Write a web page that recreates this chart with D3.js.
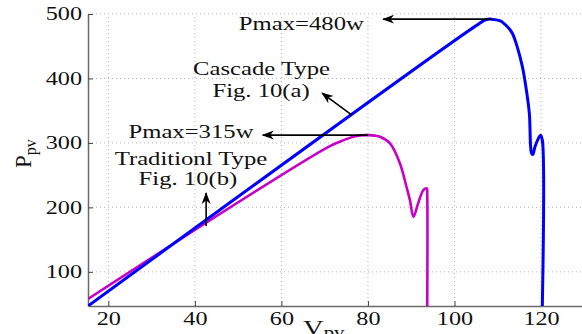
<!DOCTYPE html>
<html>
<head>
<meta charset="utf-8">
<script src="https://cdn.jsdelivr.net/npm/d3@7"></script>
<style>
  html, body { margin: 0; padding: 0; background: #fff; }
  svg { display: block; }
  text { font-family: "Liberation Serif", "Times New Roman", serif; fill: #111; }
</style>
</head>
<body>
<div id="chart"></div>
<script>
// 轴刻度
const xTicks = [20, 40, 60, 80, 100, 120];
const yTicks = [100, 200, 300, 400, 500];

// Cascade Type (蓝色) 曲线
const cascadeV = [15.3, 106.6, 107.4, 108.5, 110.6, 111.4, 112.6, 113.4, 114.5, 115.7, 116.5, 117.3, 117.8, 118.1, 118.6, 119.4, 119.9, 120.3, 120.3];
const cascadeP = [47, 489, 491.5, 492, 489.3, 485.3, 477.5, 469.8, 449, 418, 387, 346, 284, 282, 294, 307, 312, 304, 47];

// Traditionl Type (品红) 曲线
const tradV = [15.3, 71.2, 74.7, 76.6, 78.2, 80.1, 81.6, 82.8, 85.1, 87.4, 88.9, 89.7, 90.5, 91.6, 92.8, 93.6, 93.7, 93.7];
const tradP = [57.9, 295.1, 305.1, 309.5, 311.7, 312.1, 311.3, 309.5, 299.2, 268.2, 232, 211.3, 185.4, 206.2, 226.8, 229.5, 219, 47];

// 注释文字 (数据坐标)
const noteText = ['Pmax=480w', 'Cascade Type', 'Fig. 10(a)', 'Pmax=315w', 'Traditionl Type', 'Fig. 10(b)'];
const noteV = [64.6, 55.4, 55.3, 39.1, 39.1, 38.4];
const noteP = [474.9, 405.1, 371.5, 307.5, 266.1, 234.6];

// 箭头 [起点V, 起点P, 终点V, 终点P]
const arrows = [
  [108.5, 492, 83.5, 492],
  [76.3, 343.1, 69.4, 377.2],
  [80.0, 312.1, 55.7, 312.1],
  [42.6, 171, 42.6, 222.2]
];

const width = 582, height = 334;
const stretch = 1.3;   // 原图文字横向拉伸

const svg = d3.select('#chart').append('svg')
  .attr('width', width)
  .attr('height', height);

const defs = svg.append('defs');
defs.append('clipPath').attr('id', 'plot-clip')
  .append('rect').attr('x', 88).attr('y', 0).attr('width', width - 88).attr('height', 306);

// 箭头头部 (尖端在 x=12)
defs.append('marker')
  .attr('id', 'arrowhead')
  .attr('viewBox', '0 0 12 10')
  .attr('refX', 11)
  .attr('refY', 5)
  .attr('markerWidth', 12)
  .attr('markerHeight', 10)
  .attr('markerUnits', 'userSpaceOnUse')
  .attr('orient', 'auto')
  .append('path')
  .attr('d', 'M12,5 L0,0.5 L3.5,5 L0,9.5 Z')
  .attr('fill', '#000');

const x = d3.scaleLinear().domain([15.3, 130]).range([88, 584.3]);
const y = d3.scaleLinear().domain([47, 500]).range([306, 14]);

// 网格线
const grid = svg.append('g').attr('class', 'grid')
  .attr('stroke', '#b5b5b5')
  .attr('stroke-width', 1)
  .attr('stroke-dasharray', '1,3');
grid.selectAll('.gx').data(xTicks).enter().append('line')
  .attr('x1', d => x(d)).attr('x2', d => x(d))
  .attr('y1', y(47)).attr('y2', y(500));
grid.selectAll('.gy').data(yTicks).enter().append('line')
  .attr('x1', x(15.3)).attr('x2', width)
  .attr('y1', d => y(d)).attr('y2', d => y(d));

// 坐标轴
const xAxis = svg.append('g')
  .attr('transform', `translate(0,${y(47)})`)
  .call(d3.axisBottom(x).tickValues(xTicks).tickSize(-5).tickPadding(6).tickSizeOuter(0));
const yAxis = svg.append('g')
  .attr('transform', `translate(${x(15.3)},0)`)
  .call(d3.axisLeft(y).tickValues(yTicks).tickSize(-5).tickPadding(4.6).tickSizeOuter(0));

[xAxis, yAxis].forEach(ax => {
  ax.attr('font-family', null);
  ax.select('.domain').attr('stroke', '#6a6a6a').attr('stroke-width', 1.5);
  ax.selectAll('.tick line').attr('stroke', '#444').attr('stroke-width', 1);
  ax.selectAll('.tick text')
    .attr('font-size', 18.6)
    .attr('fill', '#111')
    .attr('transform', `scale(${stretch},1)`);
});

// 曲线
const line = d3.line()
  .x(d => x(d[0]))
  .y(d => y(d[1]))
  .curve(d3.curveCatmullRom.alpha(0.5));

const plot = svg.append('g').attr('clip-path', 'url(#plot-clip)');

plot.append('path')
  .datum(tradV.map((v, i) => [v, tradP[i]]))
  .attr('fill', 'none')
  .attr('stroke', '#c800c8')
  .attr('stroke-width', 2.6)
  .attr('stroke-linejoin', 'round')
  .attr('d', line);

plot.append('path')
  .datum(cascadeV.map((v, i) => [v, cascadeP[i]]))
  .attr('fill', 'none')
  .attr('stroke', '#0000ff')
  .attr('stroke-width', 3)
  .attr('stroke-linejoin', 'round')
  .attr('d', line);

// 箭头
svg.selectAll('.arrow')
  .data(arrows)
  .enter()
  .append('line')
  .attr('class', 'arrow')
  .attr('x1', d => x(d[0])).attr('y1', d => y(d[1]))
  .attr('x2', d => x(d[2])).attr('y2', d => y(d[3]))
  .attr('stroke', '#000')
  .attr('stroke-width', 1.6)
  .attr('marker-end', 'url(#arrowhead)');

// 注释文字
svg.selectAll('.note')
  .data(noteText)
  .enter()
  .append('text')
  .attr('class', 'note')
  .attr('transform', (d, i) => `translate(${x(noteV[i])},${y(noteP[i])}) scale(${stretch},1)`)
  .attr('text-anchor', 'middle')
  .attr('font-size', 19)
  .text(d => d);

// Y 轴标题
const yLabel = svg.append('text')
  .attr('transform', 'translate(31,168) rotate(-90) scale(1.15,1.2)')
  .attr('font-size', 20);
yLabel.append('tspan').text('P');
yLabel.append('tspan').attr('font-size', 14).attr('dy', 4).text('pv');

// X 轴标题 (原图底部被裁切)
const xLabel = svg.append('text')
  .attr('transform', `translate(303,335) scale(${stretch},1)`)
  .attr('font-size', 22);
xLabel.append('tspan').text('V');
xLabel.append('tspan').attr('font-size', 16).attr('dy', 3).text('pv');
</script>
</body>
</html>
